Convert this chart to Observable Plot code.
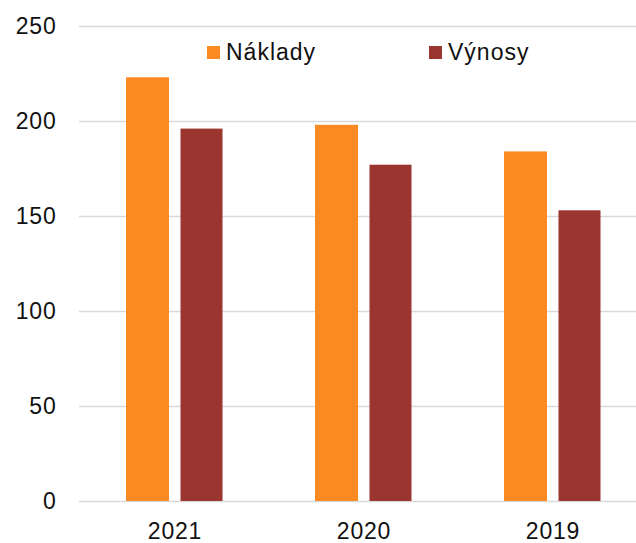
<!DOCTYPE html>
<html>
<head>
<meta charset="utf-8">
<script src="https://cdn.jsdelivr.net/npm/d3@7"></script>
<script src="https://cdn.jsdelivr.net/npm/@observablehq/plot@0.6"></script>
<style>
  html, body { margin: 0; padding: 0; background: #fff; overflow: hidden; }
  #chart { position: relative; width: 636px; height: 543px; font-family: "Liberation Sans", Arial, sans-serif; }
  .legend { position: absolute; top: 39px; display: flex; align-items: center; font-size: 23px; letter-spacing: 1px; color: #111; }
  .legend .sw { width: 13px; height: 13px; margin-right: 6px; }
  svg text { letter-spacing: 0.8px; }
</style>
</head>
<body>
<div id="chart"></div>
<script>
const years = ["2021", "2020", "2019"];
const series = ["Náklady", "Výnosy"];
const naklady = [223, 198, 184];
const vynosy = [196, 177, 153];
const colors = ["#fb8a22", "#9a3530"];
const yTicks = [0, 50, 100, 150, 200, 250];

const rowsN = years.map((y, i) => ({year: y, series: series[0], value: naklady[i]}));
const rowsV = years.map((y, i) => ({year: y, series: series[1], value: vynosy[i]}));

const chart = Plot.plot({
  width: 636,
  height: 543,
  marginTop: 26,
  marginBottom: 42,
  marginLeft: 79,
  marginRight: 0,
  style: {fontFamily: "'Liberation Sans', Arial, sans-serif", fontSize: "23px", color: "#111", background: "#fff", overflow: "hidden"},
  x: {domain: years, range: [79, 647], padding: 0, label: null},
  y: {domain: [0, 250], label: null},
  color: {domain: series, range: colors},
  marks: [
    Plot.ruleY(yTicks, {stroke: "#d9d9d9", strokeWidth: 1.3}),
    Plot.barY(rowsN, {x: "year", y: "value", fill: "series", insetLeft: 46, insetRight: 100}),
    Plot.barY(rowsV, {x: "year", y: "value", fill: "series", insetLeft: 100.5, insetRight: 46.5}),
    Plot.axisY(yTicks, {tickSize: 0, tickPadding: 23, fontSize: 23, label: null}),
    Plot.axisX({tickSize: 0, tickPadding: 21, fontSize: 23, label: null})
  ]
});
const root = document.getElementById("chart");
root.appendChild(chart);

const legendLeft = [207, 429];
series.forEach((s, i) => {
  const item = document.createElement("div");
  item.className = "legend";
  item.style.left = legendLeft[i] + "px";
  const sw = document.createElement("span");
  sw.className = "sw";
  sw.style.background = colors[i];
  const t = document.createElement("span");
  t.textContent = s;
  item.appendChild(sw);
  item.appendChild(t);
  root.appendChild(item);
});
</script>
</body>
</html>
